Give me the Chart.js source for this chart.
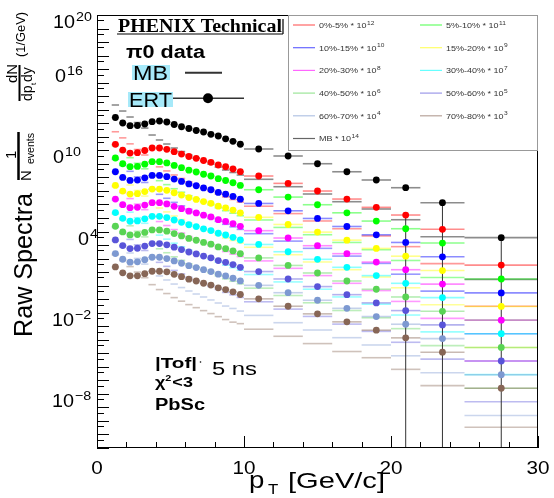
<!DOCTYPE html>
<html lang="en">
<head>
<meta charset="UTF-8">
<title>Raw Spectra</title>
<style>
  body { margin: 0; background: #fff; }
  canvas { display: block; }
</style>
</head>
<body>
<canvas id="spectra" width="554" height="498"></canvas>
<script src="https://cdn.jsdelivr.net/npm/chart.js@4.4.0/dist/chart.umd.min.js"></script>
<script>
// pT bins [GeV/c]
const ptCenter = [1.25, 1.75, 2.25, 2.75, 3.25, 3.75, 4.25, 4.75, 5.25, 5.75, 6.25, 6.75, 7.25, 7.75, 8.25, 8.75, 9.25, 9.75, 11, 13, 15, 17, 19, 21, 23.5, 27.5];
const ptLow    = [1.0, 1.5, 2.0, 2.5, 3.0, 3.5, 4.0, 4.5, 5.0, 5.5, 6.0, 6.5, 7.0, 7.5, 8.0, 8.5, 9.0, 9.5, 10, 12, 14, 16, 18, 20, 22, 25];
const ptHigh   = [1.5, 2.0, 2.5, 3.0, 3.5, 4.0, 4.5, 5.0, 5.5, 6.0, 6.5, 7.0, 7.5, 8.0, 8.5, 9.0, 9.5, 10, 12, 14, 16, 18, 20, 22, 25, 30];

// centrality classes, the power of ten each one is scaled by, colours
const seriesNames = ['0%-5%', '5%-10%', '10%-15%', '15%-20%', '20%-30%', '30%-40%', '40%-50%', '50%-60%', '60%-70%', '70%-80%', 'MB'];
const seriesPow = [12, 11, 10, 9, 8, 7, 6, 5, 4, 3, 14];
const seriesColors = ['#ff0000', '#00ff00', '#0000ff', '#ffff00', '#ff00ff', '#00ffff', '#59d454', '#5954d9', '#7d99d1', '#876656', '#000000'];

// ERT triggered raw yields (before scaling)
const ert0005 = [2.77e-2, 1.05e-2, 6.3e-3, 6.7e-3, 9.7e-3, 1.48e-2, 1.48e-2, 1.19e-2, 7.9e-3, 5.3e-3, 3.5e-3, 2.56e-3, 1.76e-3, 1.30e-3, 8.2e-4, 6.1e-4, 4.15e-4, 2.62e-4, 1.26e-4, 3.6e-5, 9.8e-6, 2.5e-6, 6.1e-7, 1.65e-7, 1.45e-8, 3.3e-11];
const ert0510 = [2.7e-2, 1.02e-2, 6.2e-3, 6.5e-3, 9.5e-3, 1.45e-2, 1.44e-2, 1.16e-2, 7.7e-3, 5.2e-3, 3.4e-3, 2.5e-3, 1.7e-3, 1.26e-3, 8.0e-4, 5.9e-4, 4.0e-4, 2.55e-4, 1.22e-4, 3.5e-5, 9.5e-6, 2.4e-6, 5.9e-7, 1.6e-7, 1.4e-8, 3.1e-11];
const ert1015 = [2.6e-2, 9.9e-3, 6.0e-3, 6.3e-3, 9.2e-3, 1.4e-2, 1.4e-2, 1.12e-2, 7.5e-3, 5.0e-3, 3.3e-3, 2.4e-3, 1.65e-3, 1.22e-3, 7.7e-4, 5.7e-4, 3.9e-4, 2.45e-4, 1.18e-4, 3.4e-5, 9.2e-6, 2.35e-6, 5.7e-7, 1.55e-7, 1.35e-8, 2.9e-11];
const ert1520 = [2.55e-2, 9.7e-3, 5.8e-3, 6.2e-3, 9.0e-3, 1.37e-2, 1.36e-2, 1.1e-2, 7.3e-3, 4.9e-3, 3.2e-3, 2.35e-3, 1.62e-3, 1.2e-3, 7.5e-4, 5.6e-4, 3.8e-4, 2.4e-4, 1.12e-4, 3.3e-5, 9.0e-6, 2.3e-6, 5.6e-7, 1.5e-7, 1.3e-8, 2.9e-11];
const ert2030 = [2.5e-2, 9.6e-3, 5.8e-3, 6.1e-3, 8.9e-3, 1.36e-2, 1.35e-2, 1.09e-2, 7.2e-3, 4.85e-3, 3.2e-3, 2.35e-3, 1.6e-3, 1.19e-3, 7.5e-4, 5.6e-4, 3.8e-4, 2.4e-4, 1.15e-4, 3.3e-5, 8.9e-6, 2.3e-6, 5.5e-7, 1.5e-7, 1.3e-8, 2.8e-11];
const ert3040 = [2.5e-2, 9.4e-3, 5.7e-3, 6.0e-3, 8.7e-3, 1.33e-2, 1.33e-2, 1.07e-2, 7.1e-3, 4.8e-3, 3.15e-3, 2.3e-3, 1.58e-3, 1.17e-3, 7.4e-4, 5.5e-4, 3.7e-4, 2.35e-4, 1.1e-4, 3.2e-5, 8.8e-6, 2.25e-6, 5.5e-7, 1.48e-7, 1.3e-8, 2.8e-11];
const ert4050 = [2.45e-2, 9.3e-3, 5.6e-3, 5.9e-3, 8.6e-3, 1.3e-2, 1.3e-2, 1.05e-2, 7.0e-3, 4.7e-3, 3.1e-3, 2.25e-3, 1.55e-3, 1.15e-3, 7.2e-4, 5.4e-4, 3.65e-4, 2.3e-4, 1.12e-4, 3.1e-5, 8.6e-6, 2.2e-6, 5.4e-7, 1.45e-7, 1.27e-8, 2.7e-11];
const ert5060 = [2.4e-2, 9.1e-3, 5.5e-3, 5.8e-3, 8.4e-3, 1.28e-2, 1.28e-2, 1.03e-2, 6.9e-3, 4.6e-3, 3.05e-3, 2.2e-3, 1.52e-3, 1.13e-3, 7.1e-4, 5.3e-4, 3.6e-4, 2.27e-4, 1.1e-4, 3.1e-5, 8.5e-6, 2.15e-6, 5.3e-7, 1.43e-7, 1.25e-8, 2.7e-11];
const ert6070 = [2.35e-2, 8.9e-3, 5.4e-3, 5.7e-3, 8.2e-3, 1.25e-2, 1.25e-2, 1.0e-2, 6.7e-3, 4.5e-3, 3.0e-3, 2.15e-3, 1.5e-3, 1.1e-3, 7.0e-4, 5.2e-4, 3.5e-4, 2.22e-4, 1.05e-4, 3.0e-5, 8.3e-6, 2.1e-6, 5.2e-7, 1.4e-7, 1.22e-8, 2.6e-11];
const ert7080 = [2.4e-2, 8.8e-3, 5.3e-3, 5.3e-3, 7.6e-3, 1.15e-2, 1.15e-2, 1.05e-2, 6.8e-3, 4.6e-3, 3.0e-3, 2.2e-3, 1.5e-3, 1.1e-3, 6.9e-4, 5.1e-4, 3.5e-4, 2.2e-4, 1.05e-4, 3.0e-5, 8.2e-6, 2.1e-6, 5.1e-7, 1.38e-7, 1.2e-8, 2.6e-11];
const ertMB   = [2.65e-2, 1.04e-2, 6.6e-3, 6.8e-3, 8.8e-3, 1.30e-2, 1.47e-2, 1.24e-2, 8.1e-3, 5.5e-3, 4.1e-3, 2.9e-3, 2.25e-3, 1.52e-3, 1.14e-3, 7.1e-4, 4.6e-4, 2.8e-4, 1.25e-4, 3.8e-5, 1.02e-5, 2.6e-6, 6.4e-7, 1.72e-7, 1.34e-8, 3.5e-11];

// minimum bias raw yields (before scaling)
const mb0005 = [0.235, 8.3e-2, 3.0e-2, 1.15e-2, 4.5e-3, 1.38e-3, 6.0e-4, 3.0e-4, 1.5e-4, 8.3e-5, 4.6e-5, 2.75e-5, 1.65e-5, 9.9e-6, 5.9e-6, 3.6e-6, 2.3e-6, 1.5e-6, 7.4e-7, 2.1e-7, 6.0e-8, 1.6e-8, 4.7e-9, 7.6e-10, 4.2e-11, 3.0e-14];
const mb0510 = [0.22, 7.9e-2, 2.85e-2, 1.1e-2, 4.3e-3, 1.33e-3, 5.7e-4, 2.9e-4, 1.45e-4, 8.0e-5, 4.4e-5, 2.65e-5, 1.6e-5, 9.5e-6, 5.7e-6, 3.45e-6, 2.25e-6, 1.46e-6, 7.1e-7, 2.0e-7, 5.8e-8, 1.55e-8, 4.5e-9, 7.2e-10, 4.0e-11, 2.8e-14];
const mb1015 = [0.215, 7.7e-2, 2.8e-2, 1.08e-2, 4.2e-3, 1.3e-3, 5.6e-4, 2.85e-4, 1.42e-4, 7.8e-5, 4.3e-5, 2.6e-5, 1.56e-5, 9.3e-6, 5.6e-6, 3.4e-6, 2.2e-6, 1.43e-6, 6.9e-7, 1.95e-7, 5.7e-8, 1.52e-8, 4.4e-9, 7.0e-10, 3.9e-11, 2.8e-14];
const mb1520 = [0.21, 7.6e-2, 2.75e-2, 1.07e-2, 4.15e-3, 1.28e-3, 5.5e-4, 2.8e-4, 1.4e-4, 7.7e-5, 4.25e-5, 2.55e-5, 1.54e-5, 9.2e-6, 5.5e-6, 3.3e-6, 2.17e-6, 1.41e-6, 6.8e-7, 1.93e-7, 5.6e-8, 1.5e-8, 4.35e-9, 6.9e-10, 3.9e-11, 2.7e-14];
const mb2030 = [0.21, 7.5e-2, 2.7e-2, 1.06e-2, 4.1e-3, 1.27e-3, 5.45e-4, 2.75e-4, 1.39e-4, 7.6e-5, 4.2e-5, 2.5e-5, 1.52e-5, 9.1e-6, 5.45e-6, 3.3e-6, 2.15e-6, 1.4e-6, 6.7e-7, 1.9e-7, 5.5e-8, 1.48e-8, 4.3e-9, 6.8e-10, 3.8e-11, 2.7e-14];
const mb3040 = [0.205, 7.4e-2, 2.68e-2, 1.05e-2, 4.05e-3, 1.25e-3, 5.4e-4, 2.72e-4, 1.37e-4, 7.5e-5, 4.15e-5, 2.48e-5, 1.5e-5, 9.0e-6, 5.4e-6, 3.25e-6, 2.12e-6, 1.38e-6, 6.6e-7, 1.88e-7, 5.45e-8, 1.46e-8, 4.25e-9, 6.7e-10, 3.8e-11, 2.65e-14];
const mb4050 = [0.2, 7.3e-2, 2.65e-2, 1.04e-2, 4.0e-3, 1.24e-3, 5.3e-4, 2.7e-4, 1.35e-4, 7.4e-5, 4.1e-5, 2.45e-5, 1.48e-5, 8.9e-6, 5.3e-6, 3.2e-6, 2.1e-6, 1.36e-6, 6.5e-7, 1.86e-7, 5.4e-8, 1.45e-8, 4.2e-9, 6.6e-10, 3.7e-11, 2.6e-14];
const mb5060 = [0.2, 7.2e-2, 2.6e-2, 1.03e-2, 3.95e-3, 1.22e-3, 5.25e-4, 2.65e-4, 1.33e-4, 7.3e-5, 4.05e-5, 2.42e-5, 1.46e-5, 8.8e-6, 5.25e-6, 3.15e-6, 2.07e-6, 1.34e-6, 6.4e-7, 1.84e-7, 5.3e-8, 1.43e-8, 4.15e-9, 6.5e-10, 3.7e-11, 2.6e-14];
const mb6070 = [0.195, 7.1e-2, 2.58e-2, 1.02e-2, 3.9e-3, 1.2e-3, 5.2e-4, 2.62e-4, 1.31e-4, 7.2e-5, 4.0e-5, 2.4e-5, 1.44e-5, 8.7e-6, 5.2e-6, 3.1e-6, 2.05e-6, 1.32e-6, 6.3e-7, 1.82e-7, 5.25e-8, 1.42e-8, 4.1e-9, 6.5e-10, 3.65e-11, 2.55e-14];
const mb7080 = [0.19, 7.0e-2, 2.55e-2, 1.0e-2, 3.85e-3, 1.18e-3, 5.1e-4, 2.6e-4, 1.3e-4, 7.1e-5, 3.95e-5, 2.35e-5, 1.42e-5, 8.6e-6, 5.1e-6, 3.1e-6, 2.0e-6, 1.55e-6, 6.0e-7, 1.8e-7, 5.2e-8, 1.35e-8, 4.7e-9, 6.5e-10, 4.1e-11, 3.4e-14];
const mbMB   = [0.223, 8.0e-2, 2.89e-2, 1.13e-2, 4.4e-3, 1.35e-3, 5.8e-4, 2.92e-4, 1.48e-4, 8.1e-5, 4.5e-5, 2.7e-5, 1.62e-5, 9.7e-6, 5.8e-6, 3.5e-6, 2.29e-6, 1.49e-6, 7.2e-7, 2.04e-7, 5.9e-8, 1.59e-8, 4.6e-9, 7.4e-10, 4.1e-11, 2.9e-14];
// statistical errors of the MB sample, only visible in the last bins
const mbMBErr = [0, 0, 0, 0, 0, 0, 0, 0, 0, 0, 0, 0, 0, 0, 0, 0, 0, 0, 0, 0, 0, 0, 0, 8.9e-10, 1.27e-8, 3.3e-11];

const xTickLabels = [0, 10, 20, 30];
const yTickPow = [20, 16, 10, 4, -2, -8];
const yTickText = [['10', '20'], ['0', '16'], ['0', '10'], ['0', '4'], ['10', '\u22122'], ['10', '\u22128']];

const ertSets = [ert0005, ert0510, ert1015, ert1520, ert2030, ert3040, ert4050, ert5060, ert6070, ert7080, ertMB];
const mbSets = [mb0005, mb0510, mb1015, mb1520, mb2030, mb3040, mb4050, mb5060, mb6070, mb7080, mbMB];

function rgba(hex, a) {
  const n = parseInt(hex.slice(1), 16);
  return `rgba(${n >> 16},${(n >> 8) & 255},${n & 255},${a})`;
}

const datasets = [];
mbSets.forEach((vals, i) => {
  const f = 10 ** seriesPow[i];
  datasets.push({
    label: seriesNames[i] + ' MB',
    data: vals.map((v, j) => ({ x: ptCenter[j], y: v * f, err: i === 10 ? mbMBErr[j] * f : 0 })),
    pointRadius: 0, pointHoverRadius: 0,
    barColor: i === 10 ? 'rgba(0,0,0,0.45)' : rgba(seriesColors[i], 0.4)
  });
});
ertSets.forEach((vals, i) => {
  const f = 10 ** seriesPow[i];
  datasets.push({
    label: seriesNames[i] + ' ERT',
    data: vals.map((v, j) => ({ x: ptCenter[j], y: v * f })),
    pointRadius: 3.4, pointHoverRadius: 3.4, borderWidth: 0,
    backgroundColor: seriesColors[i],
    barColor: i === 10 ? 'rgba(0,0,0,0.45)' : rgba(seriesColors[i], 0.45)
  });
});

// horizontal bin-width bars and the few big vertical errors
const errorBars = {
  id: 'errorBars',
  beforeDatasetsDraw(chart) {
    const { ctx, chartArea: a, scales: { x, y } } = chart;
    ctx.save();
    ctx.beginPath();
    ctx.rect(a.left, a.top, a.width, a.height);
    ctx.clip();
    chart.data.datasets.forEach(ds => {
      ds.data.forEach((p, j) => {
        const py = y.getPixelForValue(p.y);
        ctx.strokeStyle = ds.barColor;
        ctx.lineWidth = 1.6;
        ctx.beginPath();
        ctx.moveTo(x.getPixelForValue(ptLow[j]), py);
        ctx.lineTo(x.getPixelForValue(ptHigh[j]), py);
        ctx.stroke();
        if (p.err) {
          const px = x.getPixelForValue(p.x);
          const lo = p.y - p.err > 0 ? y.getPixelForValue(p.y - p.err) : a.bottom;
          ctx.strokeStyle = '#333';
          ctx.lineWidth = 1;
          ctx.beginPath();
          ctx.moveTo(px, y.getPixelForValue(p.y + p.err));
          ctx.lineTo(px, lo);
          ctx.stroke();
        }
      });
    });
    ctx.restore();
  }
};

const SX = 1.2;
function put(ctx, s, x, yb, font, sx) {
  ctx.save();
  ctx.font = font;
  ctx.translate(x, yb);
  ctx.scale(sx, 1);
  ctx.fillText(s, 0, 0);
  const w = ctx.measureText(s).width * sx;
  ctx.restore();
  return w;
}
function fit(ctx, s, x, yb, font, width) {
  ctx.font = font;
  return put(ctx, s, x, yb, font, width / ctx.measureText(s).width);
}
function vfit(ctx, s, x, yb, font, len) {
  ctx.save();
  ctx.font = font;
  const w = ctx.measureText(s).width;
  ctx.translate(x, yb);
  ctx.rotate(-Math.PI / 2);
  ctx.scale(len ? len / w : 1, 1);
  ctx.fillText(s, 0, 0);
  ctx.restore();
}

const decor = {
  id: 'decor',
  afterDraw(chart) {
    const { ctx, chartArea: a, scales: { x, y } } = chart;
    ctx.save();
    ctx.fillStyle = '#000';
    ctx.strokeStyle = '#000';
    ctx.lineWidth = 1;
    ctx.textBaseline = 'alphabetic';

    // frame
    ctx.strokeRect(a.left + 0.5, a.top + 0.5, a.width - 1, a.height - 1);

    // x ticks (inside)
    ctx.beginPath();
    for (let v = 0; v <= 30; v += 2) {
      const px = Math.round(x.getPixelForValue(v)) + 0.5;
      const len = v % 10 === 0 ? 12 : 6;
      ctx.moveTo(px, a.bottom);
      ctx.lineTo(px, a.bottom - len);
    }
    // y ticks (inside)
    for (let e = -12; e <= 20; e++) {
      const py = Math.round(y.getPixelForValue(10 ** e)) + 0.5;
      ctx.moveTo(a.left, py);
      ctx.lineTo(a.left + 12, py);
      if (e > -12) {
        const pm = Math.round(y.getPixelForValue(4 * 10 ** (e - 1))) + 0.5;
        ctx.moveTo(a.left, pm);
        ctx.lineTo(a.left + 7, pm);
      }
    }
    ctx.stroke();

    // x tick labels
    xTickLabels.forEach(v => {
      ctx.font = '18px Arial';
      const w = ctx.measureText(String(v)).width * 1.15;
      put(ctx, String(v), x.getPixelForValue(v) - w / 2, 474, '18px Arial', 1.15);
    });
    // y tick labels
    const yLeft = [53, 55, 53, 78, 52, 52];
    yTickPow.forEach((e, i) => {
      const py = y.getPixelForValue(10 ** e);
      const w = put(ctx, yTickText[i][0], yLeft[i], py + 13, '18px Arial', 1.1);
      put(ctx, yTickText[i][1], yLeft[i] + w + 1, py + 6, '13px Arial', 1.1);
    });

    // axis titles
    put(ctx, 'p', 249, 488, '23px Arial', SX);
    put(ctx, 'T', 268, 494, '14px Arial', SX);
    fit(ctx, '[GeV/c]', 288, 488, '22px Arial', 97);

    vfit(ctx, 'Raw Spectra', 32, 337, '26px Arial', 144);
    vfit(ctx, '1', 15.5, 159, '15px Arial');
    ctx.lineWidth = 2.5;
    ctx.beginPath(); ctx.moveTo(18.5, 132); ctx.lineTo(18.5, 180); ctx.stroke();
    vfit(ctx, 'N', 31, 181, '15px Arial');
    vfit(ctx, 'events', 33.5, 164, '10px Arial', 31);
    vfit(ctx, 'dN', 17, 83, '15px Arial');
    ctx.lineWidth = 2;
    ctx.beginPath(); ctx.moveTo(19.5, 65); ctx.lineTo(19.5, 101); ctx.stroke();
    vfit(ctx, 'dp', 32, 101, '14px Arial');
    vfit(ctx, 't', 36, 85, '8px Arial');
    vfit(ctx, 'dy', 32, 82, '14px Arial');
    vfit(ctx, '(1/GeV)', 25, 57, '12px Arial', 45);

    // header texts
    fit(ctx, 'PHENIX Technical', 118, 32, 'bold 18px "Liberation Serif"', 164);
    ctx.lineWidth = 1.2;
    ctx.beginPath();
    ctx.moveTo(117, 34); ctx.lineTo(283, 34);
    ctx.moveTo(283, 19); ctx.lineTo(283, 34);
    ctx.stroke();
    fit(ctx, '\u03c00 data', 126, 58, 'bold 18px Arial', 79);

    ctx.fillStyle = '#a6e9f9';
    ctx.fillRect(132, 65, 38, 15);
    ctx.fillRect(128, 92, 45, 15);
    ctx.fillStyle = '#000';
    fit(ctx, 'MB', 133, 80, '20px Arial', 35);
    fit(ctx, 'ERT', 129, 107, '20px Arial', 43);
    ctx.strokeStyle = '#333';
    ctx.lineWidth = 2;
    ctx.beginPath(); ctx.moveTo(185, 72.7); ctx.lineTo(222, 72.7); ctx.stroke();
    ctx.lineWidth = 1.5;
    ctx.beginPath(); ctx.moveTo(173, 98.3); ctx.lineTo(244, 98.3); ctx.stroke();
    ctx.beginPath(); ctx.arc(208, 98.3, 5, 0, 2 * Math.PI); ctx.fill();

    // cuts
    fit(ctx, '|Tof|', 155, 368, 'bold 15px Arial', 42);
    ctx.beginPath(); ctx.arc(200.5, 362, 0.8, 0, 2 * Math.PI); ctx.fill();
    fit(ctx, '5 ns', 212, 375, '18px Arial', 45);
    let cx = 155;
    cx += put(ctx, '\u03c7', cx, 387, 'bold 15px Arial', SX);
    cx += put(ctx, '2', cx, 381, 'bold 9px Arial', SX);
    put(ctx, '<3', cx + 1, 387, 'bold 15px Arial', SX);
    fit(ctx, 'PbSc', 155, 410, 'bold 16px Arial', 50);

    // legend box
    const lx = 288, ly = 15, lw = 250, lh = 135;
    ctx.fillStyle = '#fff';
    ctx.fillRect(lx, ly, lw, lh);
    ctx.strokeStyle = '#999';
    ctx.lineWidth = 1;
    ctx.strokeRect(lx + 0.5, ly + 0.5, lw - 1, lh);
    seriesNames.forEach((name, s) => {
      const col = s % 2, row = Math.floor(s / 2);
      const ry = 25 + row * 22.7;
      const x0 = col ? 420 : 293;
      ctx.strokeStyle = s === 10 ? '#666' : rgba(seriesColors[s], 0.6);
      ctx.lineWidth = 1.2;
      ctx.beginPath(); ctx.moveTo(x0, ry); ctx.lineTo(x0 + 22, ry); ctx.stroke();
      ctx.fillStyle = '#333';
      const w = put(ctx, name + ' * 10', x0 + 26, ry + 2.8, '7.5px Arial', SX);
      put(ctx, String(seriesPow[s]), x0 + 26 + w + 0.5, ry - 0.5, '5.5px Arial', SX);
    });
    ctx.restore();
  }
};

new Chart(document.getElementById('spectra'), {
  type: 'scatter',
  data: { datasets },
  options: {
    responsive: false,
    animation: false,
    devicePixelRatio: 1,
    layout: { padding: { left: 0, top: 15, right: 16, bottom: 0 } },
    plugins: { legend: { display: false }, tooltip: { enabled: false } },
    scales: {
      x: {
        type: 'linear', min: 0, max: 30,
        ticks: { display: false }, grid: { display: false }, border: { display: false },
        afterFit(s) { s.height = 50; }
      },
      y: {
        type: 'logarithmic', min: 1e-12, max: 1e20,
        ticks: { display: false }, grid: { display: false }, border: { display: false },
        afterFit(s) { s.width = 97; }
      }
    }
  },
  plugins: [errorBars, decor]
});
</script>
</body>
</html>
